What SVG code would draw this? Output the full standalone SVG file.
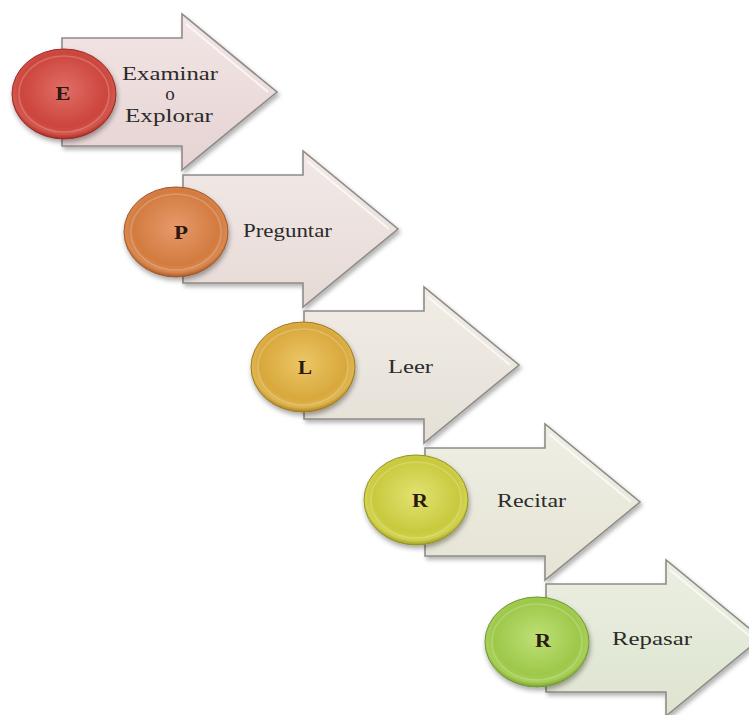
<svg xmlns="http://www.w3.org/2000/svg" width="749" height="715" viewBox="0 0 749 715">
<style>
.arrow{stroke:#8f8c88;stroke-width:1.6;filter:url(#sh)}
.bevel{fill:none;stroke:#ffffff;stroke-opacity:0.7;stroke-width:2}
.disc{stroke-width:1;filter:url(#sh2)}
.rim{fill:none;stroke:#ffffff;stroke-opacity:0.2;stroke-width:1.5}
.lbl{font-family:"Liberation Serif","Times New Roman",serif;font-size:19px;fill:#2b2b2b}
.let{font-family:"Liberation Serif","Times New Roman",serif;font-size:18px;font-weight:bold;fill:#2a1a12;text-anchor:middle}
</style>
<defs>
<filter id="sh" x="-10%" y="-10%" width="125%" height="130%"><feDropShadow dx="2" dy="3" stdDeviation="2" flood-color="#000" flood-opacity="0.3"/></filter>
<filter id="sh2" x="-20%" y="-20%" width="145%" height="150%"><feDropShadow dx="1" dy="3" stdDeviation="2.5" flood-color="#000" flood-opacity="0.35"/></filter>
<linearGradient id="a1" x1="0" y1="0" x2="0" y2="1"><stop offset="0" stop-color="#f3e6e6"/><stop offset="1" stop-color="#e6d2d2"/></linearGradient>
<linearGradient id="a2" x1="0" y1="0" x2="0" y2="1"><stop offset="0" stop-color="#f2e9e6"/><stop offset="1" stop-color="#e6dad6"/></linearGradient>
<linearGradient id="a3" x1="0" y1="0" x2="0" y2="1"><stop offset="0" stop-color="#f1ede6"/><stop offset="1" stop-color="#e5e0d6"/></linearGradient>
<linearGradient id="a4" x1="0" y1="0" x2="0" y2="1"><stop offset="0" stop-color="#f0efe5"/><stop offset="1" stop-color="#e4e3d4"/></linearGradient>
<linearGradient id="a5" x1="0" y1="0" x2="0" y2="1"><stop offset="0" stop-color="#ebefe2"/><stop offset="1" stop-color="#dde4cf"/></linearGradient>
<radialGradient id="c1" cx="0.5" cy="0.45" r="0.55"><stop offset="0" stop-color="#e06e66"/><stop offset="0.75" stop-color="#cc453d"/><stop offset="0.9" stop-color="#d4564c"/><stop offset="1" stop-color="#a42c26"/></radialGradient>
<radialGradient id="c2" cx="0.5" cy="0.45" r="0.55"><stop offset="0" stop-color="#e79a6a"/><stop offset="0.75" stop-color="#d27b40"/><stop offset="0.9" stop-color="#da8950"/><stop offset="1" stop-color="#a85a28"/></radialGradient>
<radialGradient id="c3" cx="0.5" cy="0.45" r="0.55"><stop offset="0" stop-color="#ecc666"/><stop offset="0.75" stop-color="#d8a83c"/><stop offset="0.9" stop-color="#e0b650"/><stop offset="1" stop-color="#a88020"/></radialGradient>
<radialGradient id="c4" cx="0.5" cy="0.45" r="0.55"><stop offset="0" stop-color="#e2e272"/><stop offset="0.75" stop-color="#c9c93e"/><stop offset="0.9" stop-color="#d3d350"/><stop offset="1" stop-color="#9c9c22"/></radialGradient>
<radialGradient id="c5" cx="0.5" cy="0.45" r="0.55"><stop offset="0" stop-color="#bee076"/><stop offset="0.75" stop-color="#9dc84a"/><stop offset="0.9" stop-color="#a8d058"/><stop offset="1" stop-color="#76a030"/></radialGradient>
</defs>
<rect width="749" height="715" fill="#ffffff"/>
<g id="connectors"></g>
<g id="node-E">
<path class="arrow" fill="url(#a1)" d="M62,38 H182 V14 L277,92 L182,170 V146 H62 Z"/>
<path class="bevel" d="M186,24 L268,92"/>
<ellipse class="disc" fill="url(#c1)" stroke="#9a2a25" cx="64" cy="94" rx="52" ry="45"/>
<ellipse class="rim" cx="64" cy="94" rx="45" ry="38"/>
<text class="let" x="63" y="100" textLength="15" lengthAdjust="spacingAndGlyphs">E</text>
<text class="lbl" x="122" y="80" textLength="96" lengthAdjust="spacingAndGlyphs">Examinar</text>
<text class="lbl" x="170" y="100" text-anchor="middle">o</text>
<text class="lbl" x="125" y="122" textLength="88" lengthAdjust="spacingAndGlyphs">Explorar</text>
</g>
<g id="node-P">
<path class="arrow" fill="url(#a2)" d="M183,175 H303 V151 L398,229 L303,307 V283 H183 Z"/>
<path class="bevel" d="M307,161 L389,229"/>
<ellipse class="disc" fill="url(#c2)" stroke="#a0552a" cx="176" cy="232" rx="52" ry="45"/>
<ellipse class="rim" cx="176" cy="232" rx="45" ry="38"/>
<text class="let" x="181" y="239" textLength="14" lengthAdjust="spacingAndGlyphs">P</text>
<text class="lbl" x="243" y="237" textLength="89" lengthAdjust="spacingAndGlyphs">Preguntar</text>
</g>
<g id="node-L">
<path class="arrow" fill="url(#a3)" d="M304,311 H424 V287 L519,365 L424,443 V419 H304 Z"/>
<path class="bevel" d="M428,297 L510,365"/>
<ellipse class="disc" fill="url(#c3)" stroke="#9e7a22" cx="303" cy="367" rx="52" ry="45"/>
<ellipse class="rim" cx="303" cy="367" rx="45" ry="38"/>
<text class="let" x="305" y="374" textLength="14" lengthAdjust="spacingAndGlyphs">L</text>
<text class="lbl" x="388" y="373" textLength="45" lengthAdjust="spacingAndGlyphs">Leer</text>
</g>
<g id="node-R1">
<path class="arrow" fill="url(#a4)" d="M425,448 H545 V424 L640,502 L545,580 V556 H425 Z"/>
<path class="bevel" d="M549,434 L631,502"/>
<ellipse class="disc" fill="url(#c4)" stroke="#929222" cx="416" cy="500" rx="52" ry="45"/>
<ellipse class="rim" cx="416" cy="500" rx="45" ry="38"/>
<text class="let" x="420" y="507" textLength="16" lengthAdjust="spacingAndGlyphs">R</text>
<text class="lbl" x="497" y="507" textLength="69" lengthAdjust="spacingAndGlyphs">Recitar</text>
</g>
<g id="node-R2">
<path class="arrow" fill="url(#a5)" d="M546,584 H666 V560 L761,638 L666,716 V692 H546 Z"/>
<path class="bevel" d="M670,570 L752,638"/>
<ellipse class="disc" fill="url(#c5)" stroke="#6e9630" cx="537" cy="642" rx="52" ry="45"/>
<ellipse class="rim" cx="537" cy="642" rx="45" ry="38"/>
<text class="let" x="543" y="647" textLength="16" lengthAdjust="spacingAndGlyphs">R</text>
<text class="lbl" x="612" y="645" textLength="80" lengthAdjust="spacingAndGlyphs">Repasar</text>
</g>
</svg>
